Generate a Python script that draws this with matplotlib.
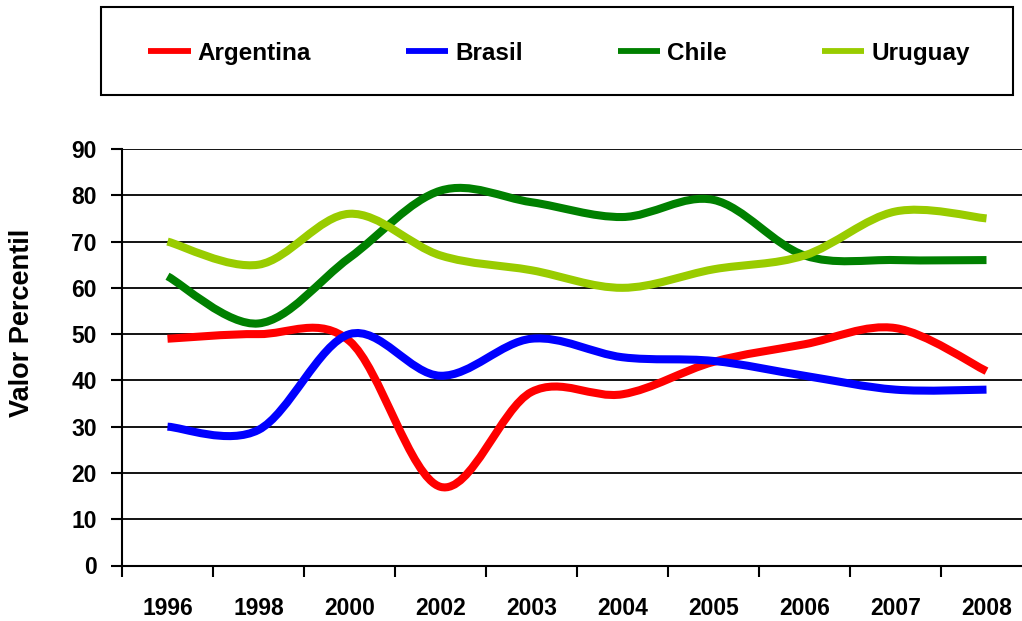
import numpy as np
import matplotlib
matplotlib.use("Agg")
import matplotlib.pyplot as plt
from matplotlib.path import Path
from matplotlib.patches import PathPatch, Rectangle
from matplotlib.lines import Line2D

# ---- data ----
years = ["1996", "1998", "2000", "2002", "2003", "2004", "2005", "2006", "2007", "2008"]
argentina = [49.0, 50.0, 48.5, 17.0, 37.5, 37.0, 44.0, 47.8, 51.3, 42.0]
brasil = [30.0, 29.3, 50.0, 41.0, 49.0, 45.0, 44.2, 41.0, 38.0, 38.0]
chile = [62.5, 52.3, 66.5, 81.0, 78.5, 75.3, 79.0, 67.0, 66.0, 66.0]
uruguay = [70.0, 65.0, 76.0, 67.0, 63.8, 60.0, 64.0, 67.0, 76.5, 75.0]

series_names = ["Argentina", "Brasil", "Chile", "Uruguay"]
series_values = [argentina, brasil, chile, uruguay]
series_colors = ["#FF0000", "#0000FF", "#008000", "#99CC00"]

plt.rcParams["font.family"] = ["Liberation Sans", "DejaVu Sans"]
plt.rcParams["font.weight"] = "bold"

W, H = 1022, 621
fig = plt.figure(figsize=(W / 100, H / 100), dpi=100)
fig.patch.set_facecolor("white")

left_px, right_px = 122, 1032
top_px, bot_px = 149, 565.5
ax = fig.add_axes([left_px / W, (H - bot_px) / H, (right_px - left_px) / W, (bot_px - top_px) / H])


def smooth_path(xs, ys):
    pts = np.column_stack([xs, ys]).astype(float)
    n = len(pts)
    verts = [pts[0]]
    codes = [Path.MOVETO]
    for i in range(n - 1):
        p0 = pts[i - 1] if i > 0 else pts[i]
        p1 = pts[i]
        p2 = pts[i + 1]
        p3 = pts[i + 2] if i + 2 < n else pts[i + 1]
        c1 = p1 + (p2 - p0) / 6.0
        c2 = p2 - (p3 - p1) / 6.0
        verts += [c1, c2, p2]
        codes += [Path.CURVE4] * 3
    return Path(verts, codes)


x = np.arange(len(years))
handles = []
for name, vals, col in zip(series_names, series_values, series_colors):
    patch = PathPatch(smooth_path(x, vals), fill=False, edgecolor=col, lw=5.8,
                      capstyle="butt", joinstyle="round", zorder=3)
    ax.add_patch(patch)
    handles.append(Line2D([], [], color=col, lw=4.2, solid_capstyle="butt", label=name))

ax.set_xlim(-0.5, len(years) - 0.5)
ax.set_ylim(0, 90)

# major ticks at category boundaries, labels at category centers
ax.set_xticks(np.arange(len(years) + 1) - 0.5)
ax.set_xticklabels([])
ax.set_xticks(x, minor=True)
ax.set_xticklabels(years, minor=True, fontsize=16.5, fontweight="bold")
ax.tick_params(axis="x", which="major", direction="out", length=8, width=1.5, color="black")
ax.tick_params(axis="x", which="minor", length=0, pad=23)

ax.set_yticks(np.arange(0, 91, 10))
ax.set_yticklabels([str(v) for v in range(0, 91, 10)], fontsize=16.5, fontweight="bold")
ax.tick_params(axis="y", direction="out", length=8, width=1.5, color="black", pad=10)

ax.yaxis.grid(True, color="black", lw=1.3)
ax.set_axisbelow(True)
for s in ["top", "right"]:
    ax.spines[s].set_visible(False)
for s in ["left", "bottom"]:
    ax.spines[s].set_color("black")
    ax.spines[s].set_linewidth(1.5)

fig.text(22 / W, (H - 323) / H, "Valor Percentil", rotation=90, ha="center", va="center",
         fontsize=19.5, fontweight="bold")

# legend box
fig.patches.append(Rectangle((101 / W, (H - 95) / H), 912 / W, 88 / H, transform=fig.transFigure,
                             fill=False, edgecolor="black", lw=1.5))
leg = fig.legend(handles=handles, loc="center", ncol=4, mode="expand",
                 bbox_to_anchor=(148 / W, (H - 53.5) / H, 822 / W, 0),
                 prop={"size": 17.5, "weight": "bold"}, handlelength=1.75, handletextpad=0.3,
                 borderpad=0, borderaxespad=0, frameon=False)

fig.savefig("out.png", dpi=100, facecolor="white")
